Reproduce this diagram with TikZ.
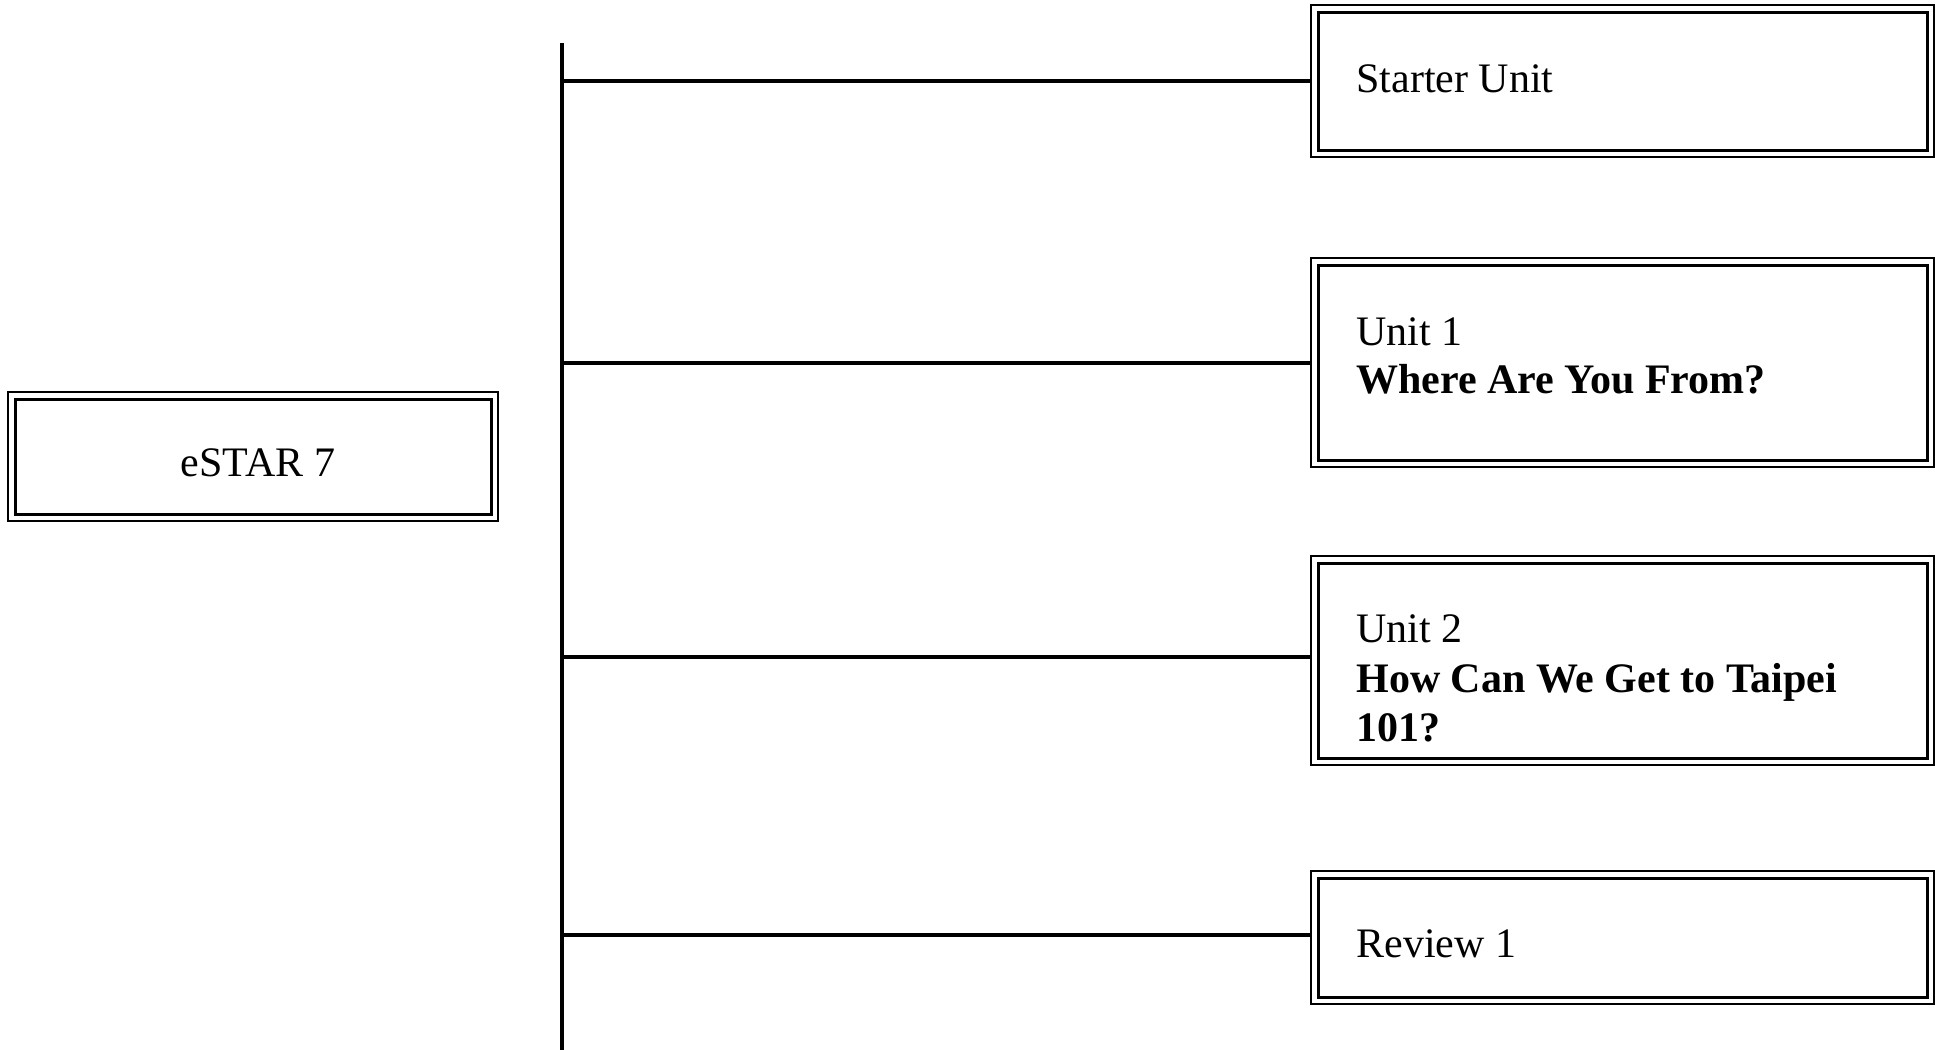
\documentclass[tikz,border=0pt]{standalone}
\usepackage{fontspec}
\setmainfont{Liberation Serif}
\begin{document}
\begin{tikzpicture}[x=0.5pt,y=-0.5pt,
  box/.style={draw, line width=1.5pt, rectangle, inner sep=0pt, minimum width=304.5pt},
  outerline/.style={line width=1pt},
  txt/.style={anchor=base west, inner sep=0pt, font=\fontsize{21}{24}\selectfont},
  ctxt/.style={anchor=base, inner sep=0pt, font=\fontsize{21}{24}\selectfont},
  link/.style={line width=2pt}]
\useasboundingbox (0,0) rectangle (1935,1050);
% boxes
\node[box, minimum width=238pt, minimum height=57.5pt] (root) at (253,456.5) {};
\node[box, minimum height=69pt] (b1) at (1622.5,81) {};
\node[box, minimum height=97.5pt] (b2) at (1622.5,362.5) {};
\node[box, minimum height=97.5pt] (b3) at (1622.5,660.5) {};
\node[box, minimum height=59.5pt] (b4) at (1622.5,937.5) {};
\foreach \n in {root,b1,b2,b3,b4}
  \draw[outerline] ([shift={(-2.6pt,2.6pt)}]\n.north west) rectangle ([shift={(2.6pt,-2.6pt)}]\n.south east);
% texts
\node[ctxt] (t0) at (258,476) {eSTAR 7};
\node[txt] (t1) at (1356,92.5) {Starter Unit};
\node[txt] (t2a) at (1356,345) {Unit 1};
\node[txt] (t2b) at (1356,393) {\bfseries Where Are You From?};
\node[txt] (t3a) at (1356,642) {Unit 2};
\node[txt] (t3b) at (1356,692) {\bfseries How Can We Get to Taipei};
\node[txt] (t3c) at (1356,741) {\bfseries 101?};
\node[txt] (t4) at (1356,957) {Review 1};
% connectors
\coordinate (top) at (562,43);
\coordinate (bot) at (562,1050);
\draw[link] (top) -- (bot);
\foreach \n/\dy in {b1/0pt,b2/0pt,b3/1.75pt,b4/1.25pt}
  \draw[link] ([yshift=\dy]\n.west -| top) -- ([xshift=-2.6pt,yshift=\dy]\n.west);
\end{tikzpicture}
\end{document}
